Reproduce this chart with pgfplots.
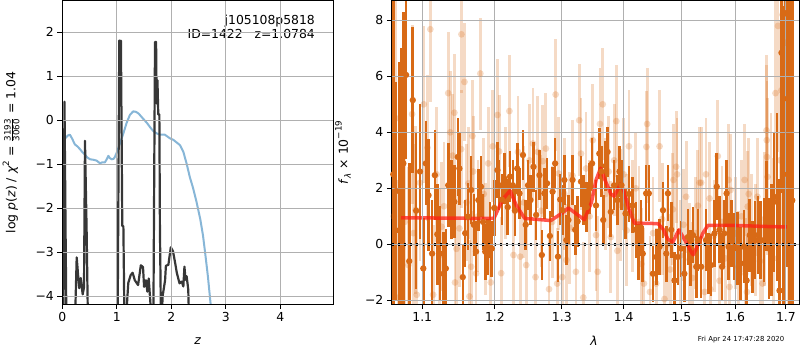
\documentclass[border=0pt]{standalone}
\usepackage{pgfplots}
\pgfplotsset{compat=1.18}
\usepackage{pgfplotstable}
\usepackage{fontspec}
\setmainfont{DejaVu Sans}
\definecolor{gridgray}{RGB}{176,176,176}
\definecolor{orD}{RGB}{216,106,22}
\definecolor{pzblue}{RGB}{135,182,215}
\definecolor{pzblack}{RGB}{55,55,55}
\definecolor{modred}{RGB}{255,30,20}
\newcommand\fs{\fontsize{12.4bp}{14.8bp}\selectfont}
\newcommand\fr{\fontsize{8.7bp}{9bp}\selectfont}
\pgfplotsset{
  myax/.style={scale only axis, axis on top,
    axis line style={line width=1bp, black},
    grid=major, grid style={line width=1bp, color=gridgray},
    tick align=outside, major tick length=4.9bp,
    tick style={line width=1bp, black}, tick pos=left,
    minor tick num=0,
    tick label style={font=\fs}, label style={font=\fs}}
}
\begin{document}
\pgfplotstableread{
x y e
1.0625 2.50 6.5
1.0660 1.90 3.9
1.0700 0.50 6.0
1.0725 2.20 4.8
1.0754 2.89 5.4
1.0789 6.05 3.0
1.0830 -0.60 3.5
1.0876 5.15 2.6
1.0920 1.20 2.8
1.0970 2.60 2.4
1.1014 -0.86 1.8
1.1047 2.89 1.5
1.1083 1.75 2.0
1.1130 -0.33 1.9
1.1167 2.47 1.6
1.1200 0.36 1.8
1.1236 -0.33 1.7
1.1283 -1.05 1.5
1.1315 -0.86 1.4
1.1347 2.11 1.5
1.1394 1.60 1.4
1.1431 1.52 1.3
1.1478 3.12 1.4
1.1500 2.71 1.3
1.1547 -1.17 1.2
1.1580 0.40 1.2
1.1617 0.99 1.2
1.1663 1.94 1.2
1.1700 0.70 1.1
1.1732 -0.26 1.1
1.1764 1.58 1.1
1.1801 2.06 1.1
1.1830 0.80 1.0
1.1861 -0.26 1.0
1.1894 -0.09 1.0
1.1931 0.51 1.0
1.1954 -0.15 1.0
1.1990 1.30 1.0
1.2036 2.65 1.0
1.2060 2.11 0.9
1.2100 1.60 0.9
1.2134 2.35 0.9
1.2185 1.33 1.0
1.2219 2.42 0.9
1.2260 2.11 0.9
1.2290 1.20 0.9
1.2324 2.71 0.9
1.2358 1.82 0.9
1.2409 3.19 0.9
1.2450 0.70 0.9
1.2484 2.11 0.9
1.2522 1.58 0.9
1.2567 2.77 0.9
1.2607 1.05 0.9
1.2657 2.47 0.9
1.2693 -0.38 0.9
1.2731 1.82 0.9
1.2772 2.18 0.9
1.2816 0.30 0.9
1.2857 1.88 0.9
1.2896 2.89 0.9
1.2940 -0.44 0.9
1.2975 1.60 0.9
1.3006 1.22 0.9
1.3040 2.30 0.9
1.3071 0.15 0.9
1.3103 0.87 0.9
1.3168 2.30 0.9
1.3210 0.52 0.9
1.3248 0.82 0.9
1.3302 2.24 0.9
1.3339 1.58 0.9
1.3394 1.33 0.9
1.3440 2.00 0.9
1.3479 2.89 0.9
1.3544 1.39 0.9
1.3597 3.24 0.9
1.3630 2.60 0.9
1.3661 0.87 0.9
1.3700 2.80 0.9
1.3732 3.30 0.9
1.3785 1.16 0.9
1.3839 2.11 0.9
1.3894 1.58 0.9
1.3930 2.60 0.9
1.3963 2.11 0.9
1.4030 1.10 0.9
1.4090 1.80 1.0
1.4147 1.39 1.0
1.4205 0.52 1.0
1.4253 -0.26 1.0
1.4290 0.60 1.0
1.4323 -0.33 1.0
1.4381 1.82 1.0
1.4428 1.82 1.0
1.4498 -1.05 1.0
1.4556 -0.45 1.0
1.4614 -0.09 1.0
1.4674 1.22 1.0
1.4732 -0.33 1.0
1.4761 1.82 1.0
1.4819 0.52 1.0
1.4877 -1.29 1.0
1.4937 -0.45 1.0
1.4995 -0.15 1.0
1.5055 -1.05 1.0
1.5118 0.26 1.0
1.5160 -0.50 1.0
1.5210 0.33 1.0
1.5270 -0.80 1.1
1.5300 0.15 1.1
1.5360 -0.80 1.1
1.5450 0.15 1.1
1.5500 -0.68 1.1
1.5546 -0.74 1.1
1.5607 0.39 1.2
1.5650 2.06 1.2
1.5700 0.52 1.2
1.5750 -0.80 1.2
1.5790 0.39 1.2
1.5835 1.82 1.2
1.5875 -0.09 1.2
1.5930 0.39 1.2
1.5990 -0.09 1.2
1.6040 -0.15 1.3
1.6104 -0.68 1.3
1.6170 -0.09 1.3
1.6220 -1.29 1.3
1.6280 0.33 1.3
1.6330 -0.45 1.3
1.6380 0.15 1.4
1.6440 0.33 1.4
1.6496 0.15 1.4
1.6560 0.15 1.5
1.6610 1.38 1.6
1.6660 -0.15 1.8
1.6710 0.15 2.0
1.6760 1.52 2.5
1.6820 1.70 3.0
1.6870 -1.65 4.0
1.6910 6.84 5.0
1.6950 2.50 6.0
1.6990 8.25 6.0
1.7030 5.20 6.0
1.7070 3.00 7.0
1.7100 6.50 8.0
1.7130 1.57 9.0
}\darktab
\pgfplotstableread{
x y e
1.0630 1.00 5.0
1.0660 4.50 4.5
1.0690 -1.90 4.2
1.0730 2.00 4.0
1.0770 0.80 3.8
1.0819 -0.74 3.5
1.0867 4.65 3.2
1.0884 0.40 3.2
1.0915 1.23 3.0
1.0928 -1.80 3.0
1.0970 2.20 2.8
1.1020 5.00 2.8
1.1069 3.45 2.6
1.1107 7.68 2.6
1.1144 -1.80 2.5
1.1190 2.50 2.4
1.1230 -0.40 2.4
1.1256 0.63 2.3
1.1290 1.36 2.3
1.1347 5.40 2.2
1.1375 4.00 2.2
1.1408 3.17 2.2
1.1431 4.70 2.1
1.1440 -1.36 2.1
1.1460 -0.16 2.1
1.1500 0.57 2.1
1.1524 3.40 2.1
1.1528 7.50 2.1
1.1570 5.80 2.1
1.1600 1.50 2.1
1.1625 2.18 2.0
1.1639 -1.86 2.0
1.1663 -0.80 2.0
1.1681 3.87 2.0
1.1690 2.60 2.0
1.1732 -1.04 2.0
1.1760 1.00 2.0
1.1792 6.10 2.0
1.1840 1.80 2.0
1.1870 0.20 2.0
1.1903 2.89 2.0
1.1940 -1.36 2.0
1.1968 3.50 2.0
1.2036 4.62 2.0
1.2060 3.32 2.0
1.2090 -1.03 2.0
1.2150 2.20 2.0
1.2209 4.76 2.0
1.2269 -0.38 2.0
1.2335 3.30 2.0
1.2369 -0.44 2.0
1.2420 1.50 2.0
1.2458 -0.74 2.0
1.2507 3.00 2.0
1.2558 3.60 2.0
1.2597 -1.17 2.0
1.2632 3.30 2.0
1.2680 1.20 2.0
1.2707 2.97 2.0
1.2754 3.42 2.0
1.2803 -1.60 2.0
1.2850 0.80 2.0
1.2904 5.35 2.0
1.2928 -1.40 2.0
1.2952 2.53 2.0
1.3006 -1.17 2.0
1.3040 1.80 2.0
1.3071 -0.56 2.0
1.3120 0.60 2.0
1.3168 2.45 2.0
1.3221 -0.98 2.0
1.3274 4.43 2.0
1.3302 3.24 2.0
1.3339 -1.90 2.0
1.3383 2.71 2.0
1.3440 1.00 2.0
1.3490 3.72 2.0
1.3544 0.33 2.0
1.3570 -0.98 2.0
1.3608 4.30 2.0
1.3652 5.00 2.0
1.3700 1.80 2.0
1.3750 2.60 2.0
1.3785 0.26 2.0
1.3840 3.00 2.0
1.3877 4.40 2.0
1.3894 -0.23 2.0
1.3950 1.40 2.0
1.4000 2.50 2.0
1.4050 0.50 2.0
1.4088 3.50 2.0
1.4150 1.00 2.0
1.4205 2.00 2.0
1.4260 0.80 2.0
1.4300 -0.70 2.0
1.4342 -1.40 2.0
1.4386 3.48 2.0
1.4398 4.30 2.0
1.4447 -1.70 2.0
1.4500 0.40 2.0
1.4556 -1.40 2.0
1.4614 3.50 2.0
1.4660 0.90 2.0
1.4700 -1.95 2.0
1.4760 0.00 2.0
1.4800 -0.90 2.0
1.4849 1.25 2.0
1.4860 2.30 2.0
1.4907 2.77 2.0
1.4924 2.50 2.0
1.4980 -0.40 2.0
1.5040 0.70 2.0
1.5086 1.70 2.0
1.5148 -0.54 2.0
1.5200 -1.20 2.0
1.5260 0.40 2.0
1.5300 1.38 2.0
1.5331 2.20 2.0
1.5360 2.20 2.0
1.5425 -1.70 2.0
1.5450 2.50 2.0
1.5515 1.64 2.0
1.5530 -1.60 2.0
1.5600 0.30 2.0
1.5670 3.15 2.0
1.5700 -1.30 2.0
1.5750 0.80 2.0
1.5810 -0.50 2.0
1.5875 2.30 2.0
1.5890 -1.52 2.0
1.5910 1.94 2.0
1.6005 0.39 2.0
1.6060 -0.80 2.0
1.6120 1.00 2.0
1.6180 2.30 2.0
1.6195 -1.05 2.0
1.6225 -1.70 2.0
1.6240 1.35 2.0
1.6260 1.80 2.0
1.6320 0.50 2.0
1.6395 0.15 2.0
1.6430 1.70 2.1
1.6480 -0.60 2.1
1.6530 -1.40 2.2
1.6570 0.90 2.4
1.6610 4.07 2.7
1.6615 3.72 2.7
1.6620 3.12 2.7
1.6630 2.41 2.8
1.6700 1.50 3.2
1.6750 -0.50 3.6
1.6790 5.40 4.0
1.6840 7.80 4.5
1.6880 3.00 5.0
1.6910 5.50 5.5
1.6930 8.20 6.0
1.7000 7.20 6.0
1.7050 4.00 7.0
1.7100 2.00 8.0
}\lighttab
\pgfplotstableread{
x y
1.0724 0.95
1.1200 0.94
1.1700 0.93
1.1986 0.93
1.2110 1.60
1.2219 1.92
1.2309 1.40
1.2433 0.93
1.2831 0.85
1.3006 1.12
1.3103 1.30
1.3221 1.10
1.3355 0.88
1.3470 1.50
1.3544 2.30
1.3618 2.72
1.3680 2.35
1.3785 1.80
1.3839 1.72
1.3952 2.17
1.4010 1.85
1.4090 1.25
1.4180 0.76
1.4586 0.74
1.4674 0.55
1.4761 0.18
1.4849 0.08
1.4956 0.52
1.5064 0.15
1.5210 -0.38
1.5270 -0.15
1.5390 0.39
1.5484 0.68
1.5912 0.68
1.6560 0.64
1.7020 0.62
}\redtab
\begin{tikzpicture}[x=1bp,y=1bp]
\path[use as bounding box] (0,0) rectangle (800,350);
\begin{axis}[myax, at={(62.3bp,46bp)}, anchor=south west,
  width=271bp, height=303bp,
  xmin=0, xmax=4.97, ymin=-4.18, ymax=2.71,
  xtick={0,1,2,3,4}, xticklabels={0,1,2,3,4},
  ytick={-4,-3,-2,-1,0,1,2}, yticklabels={−4,−3,−2,−1,0,1,2},
  xlabel={\textit{z}},
  xlabel style={at={(axis description cs:0.5,-0.132)}, anchor=base},
  ylabel={log \textit{p}(\textit{z}) / \textit{χ}\raisebox{0.5em}{\fr 2} = $\frac{\hbox{\fr 3193}}{\hbox{\fr 3060}}$ = 1.04},
  ylabel style={at={(axis description cs:-0.189,0.5)}, anchor=center},
]
\addplot[pzblue, line width=2bp, line join=round] coordinates {
(0.00,-0.97) (0.02,-0.60) (0.05,-0.42) (0.10,-0.35) (0.14,-0.33) (0.18,-0.42)
(0.23,-0.55) (0.28,-0.60) (0.325,-0.66) (0.37,-0.73) (0.42,-0.79) (0.46,-0.85)
(0.51,-0.89) (0.57,-0.90) (0.63,-0.92) (0.66,-0.95) (0.69,-0.98) (0.73,-0.96)
(0.78,-0.96) (0.81,-0.90) (0.845,-0.81) (0.87,-0.86) (0.906,-0.89) (0.94,-0.88)
(0.967,-0.83) (1.01,-0.70) (1.06,-0.52) (1.12,-0.30) (1.18,-0.06) (1.24,0.12)
(1.30,0.20) (1.35,0.19) (1.40,0.15) (1.47,0.05) (1.55,-0.06) (1.61,-0.16)
(1.67,-0.25) (1.73,-0.30) (1.79,-0.33) (1.88,-0.33) (1.97,-0.41) (2.04,-0.45)
(2.10,-0.51) (2.16,-0.57) (2.22,-0.72) (2.28,-0.99) (2.34,-1.30) (2.40,-1.55)
(2.46,-1.85) (2.53,-2.25) (2.58,-2.62) (2.62,-3.02) (2.67,-3.55) (2.72,-4.18) (2.76,-4.70)};
\addplot[pzblack, line width=2.2bp, line join=round] coordinates {
(0.02,-4.6) (0.04,0.42) (0.06,-2.5) (0.075,-4.6)};
\addplot[pzblack, line width=2.2bp, line join=round] coordinates {
(0.233,-4.6) (0.264,-3.12) (0.294,-3.59) (0.312,-3.82) (0.337,-3.59) (0.374,-3.96)
(0.398,-3.80) (0.416,-0.47) (0.447,-2.57) (0.47,-4.6)};
\addplot[pzblack, line width=2.2bp, line join=round] coordinates {
(1.015,-4.6) (1.045,1.81) (1.06,1.2) (1.075,1.81) (1.10,-2.41) (1.12,-2.41) (1.14,-4.6)};
\addplot[pzblack, line width=2.2bp, line join=round] coordinates {
(1.165,-4.6) (1.21,-3.70) (1.255,-3.52) (1.29,-3.47) (1.33,-3.64) (1.39,-3.75)
(1.44,-3.30) (1.48,-3.34) (1.50,-3.79) (1.535,-3.64) (1.56,-3.90) (1.585,-3.60)
(1.61,-4.05) (1.64,-4.6)};
\addplot[pzblack, line width=2.2bp, line join=round] coordinates {
(1.67,-4.6) (1.70,1.78) (1.72,1.78) (1.73,0.38) (1.745,0.91) (1.76,0.13) (1.78,0.13)
(1.79,-2.41) (1.81,-4.6)};
\addplot[pzblack, line width=2.2bp, line join=round] coordinates {
(1.82,-4.6) (1.84,-4.0) (1.885,-3.64) (1.90,-3.31) (1.945,-3.29) (1.99,-2.89)
(2.03,-2.98) (2.07,-3.25) (2.10,-3.47) (2.15,-3.71) (2.19,-3.67) (2.22,-3.78)
(2.24,-3.33) (2.26,-3.63) (2.28,-3.55) (2.31,-3.85) (2.325,-4.6)};
\node[anchor=base east, font=\fs] at (rel axis cs:0.945,0.923) {j105108p5818};
\node[anchor=base east, font=\fs] at (rel axis cs:0.945,0.876) {ID=1422\ \ \ z=1.0784};
\end{axis}
\begin{axis}[myax, at={(391.7bp,46bp)}, anchor=south west,
  width=407.3bp, height=303bp,
  xmode=log, xmin=1.0605, xmax=1.727, ymin=-2.13, ymax=8.69,
  xtick={1.1,1.2,1.3,1.4,1.5,1.6,1.7},
  xticklabels={1.1,1.2,1.3,1.4,1.5,1.6,1.7},
  ytick={-2,0,2,4,6,8}, yticklabels={−2,0,2,4,6,8},
  xlabel={\textit{λ}},
  xlabel style={at={(axis description cs:0.497,-0.137)}, anchor=base},
  ylabel={\textit{f}\raisebox{-0.25em}{\fr\itshape λ} × 10\raisebox{0.5em}{\fr −19}},
  ylabel style={at={(axis description cs:-0.1196,0.5)}, anchor=center},
]
\addplot[color=orD, only marks, mark=*, mark size=3.4bp,
  mark options={fill=orD, draw=orD, fill opacity=0.25, draw opacity=0},
  error bars/.cd, y dir=both, y explicit, error mark=none,
  error bar style={line width=2.8bp, color=orD, draw opacity=0.25}]
  table[x=x, y=y, y error=e] {\lighttab};
\addplot[color=orD, only marks, mark=*, mark size=3.2bp,
  mark options={fill=orD, draw=orD, draw opacity=0},
  error bars/.cd, y dir=both, y explicit, error mark=none,
  error bar style={line width=2.6bp, color=orD}]
  table[x=x, y=y, y error=e] {\darktab};
\addplot[modred, opacity=0.75, line width=3.5bp, line join=round] table[x=x, y=y] {\redtab};
\addplot[black, line width=2.5bp, dash pattern=on 2.5bp off 3.5bp] coordinates {(1.0605,0) (1.727,0)};
\end{axis}
\node[anchor=base east, font=\fontsize{6.9bp}{8bp}\selectfont] at (787.7,8.3) {Fri Apr 24 17:47:28 2020};
\end{tikzpicture}
\end{document}
